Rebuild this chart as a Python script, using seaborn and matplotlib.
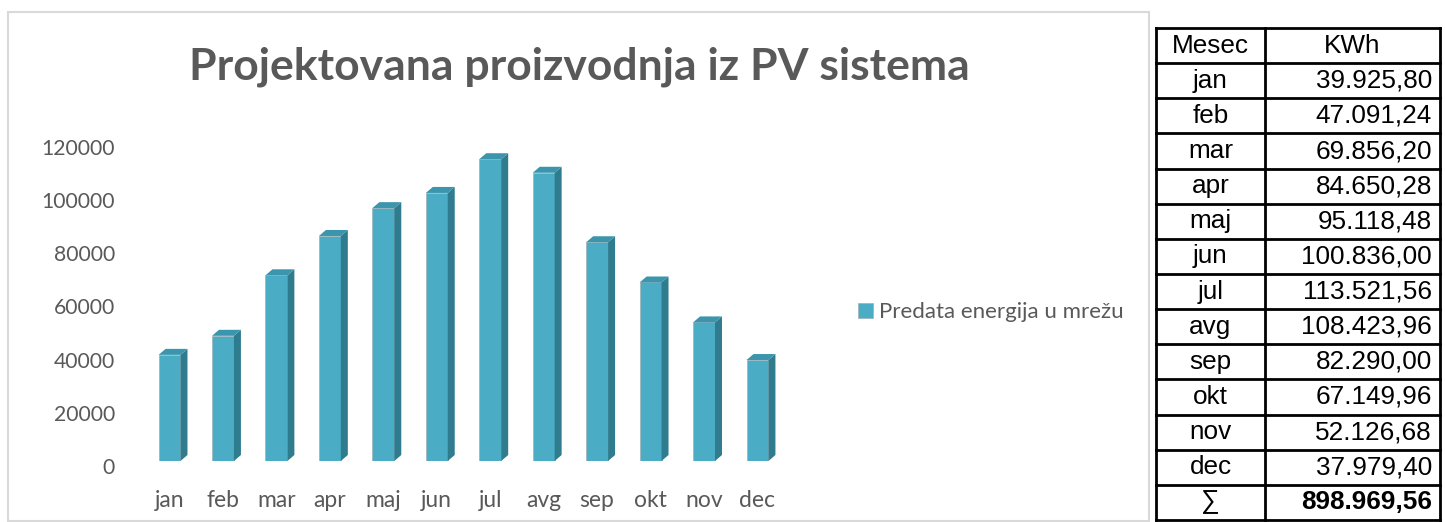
import numpy as np
import pandas as pd
import matplotlib
matplotlib.use("Agg")
import matplotlib.pyplot as plt
import seaborn as sns
from matplotlib.patches import Polygon, Rectangle
from matplotlib.transforms import ScaledTranslation

months = ["jan", "feb", "mar", "apr", "maj", "jun", "jul", "avg", "sep", "okt", "nov", "dec"]
kwh = [39925.80, 47091.24, 69856.20, 84650.28, 95118.48, 100836.00,
       113521.56, 108423.96, 82290.00, 67149.96, 52126.68, 37979.40]
kwh_labels = ["39.925,80", "47.091,24", "69.856,20", "84.650,28", "95.118,48", "100.836,00",
              "113.521,56", "108.423,96", "82.290,00", "67.149,96", "52.126,68", "37.979,40"]
total_label = "898.969,56"
yticks = [0, 20000, 40000, 60000, 80000, 100000, 120000]
title = "Projektovana proizvodnja iz PV sistema"
series_name = "Predata energija u mrežu"

sns.set_theme(style="white")
plt.rcParams["font.family"] = ["Lato", "DejaVu Sans"]

GRAY = "#595959"
FRONT = "#4bacc6"
SIDE = "#2f7c8f"
TOP = "#3b95ac"

W, H = 1445, 522
fig = plt.figure(figsize=(W / 100, H / 100), dpi=100)

# chart border
fig.patches.append(Rectangle((8 / W, 1 - 521 / H), (1149 - 8) / W, (521 - 12) / H,
                             transform=fig.transFigure, fill=False,
                             edgecolor="#d9d9d9", linewidth=1.5))

ax = fig.add_axes([142.8 / W, 1 - 461 / H, 641.4 / W, (461 - 142) / H])
df = pd.DataFrame({"Mesec": months, "KWh": kwh})
sns.barplot(data=df, x="Mesec", y="KWh", color=FRONT, saturation=1, width=0.41,
            label=series_name, ax=ax, edgecolor="#9fb8c0", linewidth=0.6)
ax.set_xlim(-0.5, 11.5)
ax.set_ylim(0, 120000)
ax.set_yticks(yticks)
ax.set_yticklabels([str(v) for v in yticks])
ax.set_xlabel("")
ax.set_ylabel("")
for s in ax.spines.values():
    s.set_visible(False)
ax.tick_params(axis="y", length=0, pad=20, labelsize=15.2, labelcolor=GRAY)
ax.tick_params(axis="x", length=0, pad=21, labelsize=16.5, labelcolor=GRAY)
off = ScaledTranslation(0, -5 / 100, fig.dpi_scale_trans)
for lbl in ax.get_yticklabels():
    lbl.set_transform(lbl.get_transform() + off)

# 3D faces
px_x = (641.4) / 12.0
px_y = (461 - 142) / 120000.0
dx = 7 / px_x
dy = 6 / px_y
for p in list(ax.patches):
    x0, w, h = p.get_x(), p.get_width(), p.get_height()
    x1 = x0 + w
    side = Polygon([(x1, 0), (x1, h), (x1 + dx, h + dy), (x1 + dx, dy)],
                   closed=True, facecolor=SIDE, edgecolor="none", clip_on=False, zorder=p.get_zorder())
    top = Polygon([(x0, h), (x1, h), (x1 + dx, h + dy), (x0 + dx, h + dy)],
                  closed=True, facecolor=TOP, edgecolor="none", clip_on=False, zorder=p.get_zorder())
    ax.add_patch(side)
    ax.add_patch(top)

fig.text(579 / W, 1 - 67 / H, title, ha="center", va="center", fontsize=32,
         fontweight="bold", color=GRAY)

leg = ax.legend(loc="center left", bbox_to_anchor=(847 / W, 1 - 312 / H),
                bbox_transform=fig.transFigure, frameon=False, fontsize=16,
                handlelength=0.65, handleheight=0.65, handletextpad=0.3, borderpad=0)
for t in leg.get_texts():
    t.set_color(GRAY)

# table
tx0, tx1, tx2 = 1156, 1265, 1440
ty0, ty1 = 28, 520
nrows = 14
tax = fig.add_axes([tx0 / W, 1 - ty1 / H, (tx2 - tx0) / W, (ty1 - ty0) / H])
tax.set_xlim(tx0, tx2)
tax.set_ylim(nrows, 0)
tax.axis("off")
lw = 2.0
for r in range(nrows + 1):
    tax.plot([tx0, tx2], [r, r], color="black", lw=lw, clip_on=False, solid_capstyle="projecting")
for xv in (tx0, tx1, tx2):
    tax.plot([xv, xv], [0, nrows], color="black", lw=lw, clip_on=False, solid_capstyle="projecting")
tfont = ["Liberation Sans", "DejaVu Sans"]
fs = 18.8
col1c = (tx0 + tx1) / 2
col2c = (tx1 + tx2) / 2
tax.text(col1c, 0.5, "Mesec", ha="center", va="center", fontsize=fs, family=tfont, color="black")
tax.text(col2c, 0.5, "KWh", ha="center", va="center", fontsize=fs, family=tfont, color="black")
for i, (m, v) in enumerate(zip(months, kwh_labels)):
    tax.text(col1c, i + 1.5, m, ha="center", va="center", fontsize=fs, family=tfont, color="black")
    tax.text(tx2 - 8, i + 1.5, v, ha="right", va="center", fontsize=fs, family=tfont, color="black")
tax.text(col1c, 13.5, "∑", ha="center", va="center", fontsize=fs, family=tfont, color="black")
tax.text(tx2 - 8, 13.5, total_label, ha="right", va="center", fontsize=fs, family=tfont,
         fontweight="bold", color="black")

fig.savefig("out.png", dpi=100)
